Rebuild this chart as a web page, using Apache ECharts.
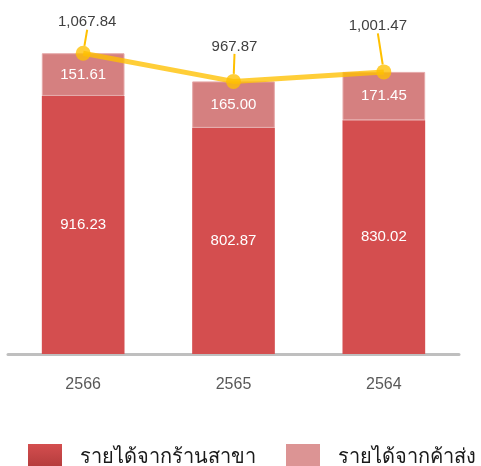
<!DOCTYPE html>
<html>
<head>
<meta charset="utf-8">
<script src="https://cdn.jsdelivr.net/npm/echarts@6/dist/echarts.min.js"></script>
<style>
  html, body { margin: 0; padding: 0; background: #fff; }
  #chart { width: 481px; height: 466px; }
</style>
</head>
<body>
<div id="chart"></div>
<script>
// ปี (แกน x)
var years = ['2566', '2565', '2564'];
// รายได้จากร้านสาขา
var branchRevenue = [916.23, 802.87, 830.02];
// รายได้จากค้าส่ง
var wholesaleRevenue = [151.61, 165.00, 171.45];
// ยอดรวม
var totalRevenue = [1067.84, 967.87, 1001.47];

var seriesNames = ['รายได้จากร้านสาขา', 'รายได้จากค้าส่ง'];

// ระยะเลื่อนป้ายของเส้นรวม
var labelShift = [[4, -11], [1, -15], [-6, -26]];

var font = 'Liberation Sans, Arial, sans-serif';

function fmt(v) {
  return v.toLocaleString('en-US', { minimumFractionDigits: 2, maximumFractionDigits: 2 });
}

var chart = echarts.init(document.getElementById('chart'));

var option = {
  animation: false,
  grid: { left: 8, right: 22, top: 16, bottom: 112 },
  legend: {
    data: [
      {
        name: seriesNames[0],
        itemStyle: {
          borderWidth: 0,
          color: new echarts.graphic.LinearGradient(0, 0, 0, 1, [
            { offset: 0, color: '#d44e4f' },
            { offset: 1, color: '#b03a3a' }
          ])
        }
      },
      { name: seriesNames[1], itemStyle: { color: '#dc9494', borderWidth: 0 } }
    ],
    icon: 'rect',
    left: 28,
    top: 444,
    padding: 0,
    width: 470,
    itemWidth: 34,
    itemHeight: 26,
    itemGap: 30,
    textStyle: {
      fontSize: 20,
      color: '#1a1a1a',
      padding: [0, 0, 0, 13]
    }
  },
  xAxis: {
    type: 'category',
    data: years,
    axisLine: { lineStyle: { color: '#bfbfbf', width: 3 } },
    axisTick: { show: false },
    axisLabel: { color: '#595959', fontSize: 16, margin: 23, fontFamily: font }
  },
  yAxis: {
    type: 'value',
    min: 0,
    max: 1200,
    show: false,
    splitLine: { show: false }
  },
  series: [
    {
      name: seriesNames[0],
      type: 'bar',
      stack: 'rev',
      barWidth: '55%',
      data: branchRevenue,
      itemStyle: { color: '#d44e4f' },
      label: {
        show: true,
        position: 'inside',
        color: '#fff',
        fontSize: 15,
        fontFamily: font,
        formatter: function(p) { return fmt(p.value); }
      }
    },
    {
      name: seriesNames[1],
      type: 'bar',
      stack: 'rev',
      barWidth: '55%',
      data: wholesaleRevenue,
      itemStyle: { color: '#d58080', borderColor: '#e6a9a9', borderWidth: 1 },
      label: {
        show: true,
        position: 'inside',
        color: '#fff',
        fontSize: 15,
        fontFamily: font,
        formatter: function(p) { return fmt(p.value); }
      }
    },
    {
      name: 'รวม',
      type: 'line',
      data: totalRevenue,
      symbol: 'circle',
      symbolSize: 15,
      z: 5,
      lineStyle: { color: 'rgba(255,192,0,0.78)', width: 5 },
      itemStyle: { color: 'rgba(255,192,0,0.78)' },
      label: {
        show: true,
        position: 'top',
        distance: 5,
        color: '#404040',
        fontSize: 15,
        fontFamily: font,
        formatter: function(p) { return fmt(p.value); }
      },
      labelLine: {
        show: true,
        lineStyle: { color: '#ffc000', width: 2 }
      },
      labelLayout: function(p) {
        var s = labelShift[p.dataIndex];
        return { dx: s[0], dy: s[1] };
      }
    }
  ]
};

chart.setOption(option);
</script>
</body>
</html>
